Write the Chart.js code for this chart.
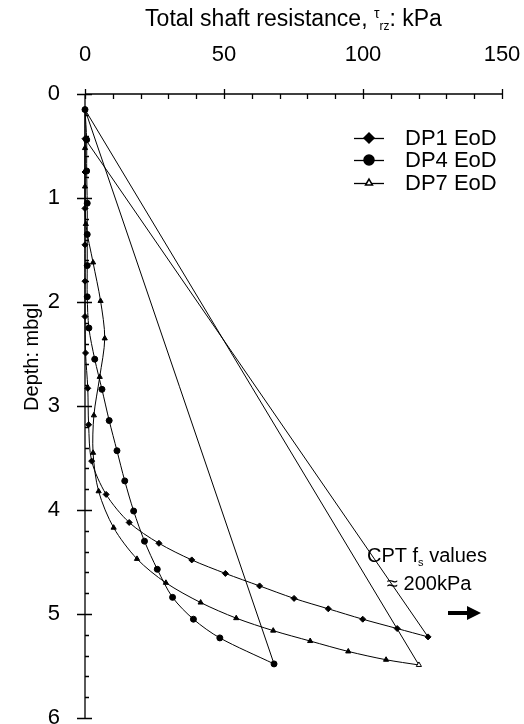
<!DOCTYPE html>
<html>
<head>
<meta charset="utf-8">
<script src="https://cdn.jsdelivr.net/npm/chart.js@4.4.1/dist/chart.umd.min.js"></script>
<style>
  html, body { margin: 0; padding: 0; background: #fff; }
  #wrap { width: 524px; height: 724px; }
</style>
</head>
<body>
<div id="wrap"><canvas id="chart" width="524" height="724"></canvas></div>
<script>
// depth (m below ground) and total shaft resistance (kPa), top to toe
const dp1Depth = [0.43, 0.75, 1.10, 1.45, 1.80, 2.14, 2.49, 2.83, 3.18, 3.53, 3.85, 4.12, 4.32, 4.48, 4.61, 4.73, 4.85, 4.95, 5.05, 5.14, 5.22];
const dp1Shaft = [0, 0, 0, 0, 0, 0, 0.2, 1.0, 1.3, 2.4, 7.6, 15.9, 26.6, 38.4, 50.5, 62.8, 75.2, 87.5, 99.9, 112.3, 123.4];

const dp4Depth = [0.15, 0.44, 0.74, 1.05, 1.35, 1.65, 1.95, 2.25, 2.55, 2.84, 3.14, 3.43, 3.72, 4.01, 4.30, 4.57, 4.84, 5.05, 5.23, 5.48];
const dp4Shaft = [0, 0.6, 0.6, 0.8, 0.8, 0.8, 0.8, 1.4, 3.5, 6.1, 8.7, 11.5, 14.3, 17.5, 21.4, 26.0, 31.5, 39.0, 48.5, 68.0];

const dp7Depth = [0.15, 0.52, 0.89, 1.25, 1.62, 1.99, 2.35, 2.72, 3.09, 3.45, 3.82, 4.17, 4.47, 4.70, 4.89, 5.04, 5.16, 5.26, 5.36, 5.44, 5.49];
const dp7Shaft = [0, 0, 0, 0.3, 2.9, 5.6, 7.1, 5.3, 3.2, 2.9, 4.9, 10.3, 18.7, 29.1, 41.6, 54.4, 67.7, 81.0, 94.7, 108.3, 120.1];

const seriesNames = ["DP1 EoD", "DP4 EoD", "DP7 EoD"];
const xTicksMajor = [0, 50, 100, 150];
const yTicksMajor = [0, 1, 2, 3, 4, 5, 6];

const FONT = '"Liberation Sans", Arial, sans-serif';

function toPoints(shaft, depth) {
    return depth.map((d, i) => ({ x: shaft[i], y: d }));
}

// straight line joining the toe value back up to the first reading
function closingLine(shaft, depth) {
    const last = depth.length - 1;
    return [{ x: shaft[last], y: depth[last] }, { x: shaft[0], y: depth[0] }];
}

function profile(label, shaft, depth, style, radius, hollowToe) {
    const last = depth.length - 1;
    return {
        label: label,
        data: toPoints(shaft, depth),
        showLine: true,
        borderColor: "#000",
        backgroundColor: "#000",
        pointBackgroundColor: c => (hollowToe && c.dataIndex === last ? "#fff" : "#000"),
        borderWidth: 1,
        tension: 0.3,
        pointStyle: style,
        pointRadius: radius,
        pointBorderWidth: 1,
        clip: false
    };
}

function closing(shaft, depth) {
    return {
        label: "",
        data: closingLine(shaft, depth),
        showLine: true,
        borderColor: "#000",
        borderWidth: 1,
        tension: 0,
        pointRadius: 0,
        clip: false
    };
}

// axis lines, ticks, legend, titles and note
const decorations = {
    id: "decorations",
    beforeDatasetsDraw(chart) {
        const ctx = chart.ctx;
        const xs = chart.scales.x, ys = chart.scales.y;
        const top = ys.getPixelForValue(0), bottom = ys.getPixelForValue(6);
        const left = xs.getPixelForValue(0), right = xs.getPixelForValue(150);
        ctx.save();
        ctx.strokeStyle = "#000";
        ctx.lineWidth = 1.3;
        ctx.beginPath();
        ctx.moveTo(left, top); ctx.lineTo(right, top);
        ctx.moveTo(left, top); ctx.lineTo(left, bottom);
        // top axis ticks
        for (let v = 0; v <= 150; v += 10) {
            const px = Math.round(xs.getPixelForValue(v)) + 0.5;
            const major = xTicksMajor.includes(v);
            ctx.moveTo(px, major ? top - 5 : top);
            ctx.lineTo(px, top + 5);
        }
        // depth axis ticks
        for (let i = 0; i <= 30; i++) {
            const v = i / 5;
            const py = Math.round(ys.getPixelForValue(v)) + 0.5;
            const major = i % 5 === 0;
            ctx.moveTo(major ? left - 8 : left, py);
            ctx.lineTo(major ? left + 7 : left + 4, py);
        }
        ctx.stroke();
        ctx.restore();
    },
    afterDraw(chart) {
        const ctx = chart.ctx;
        ctx.save();
        ctx.fillStyle = "#000";
        ctx.strokeStyle = "#000";

        // top title with tau_rz
        const parts = [
            ["Total shaft resistance, ", 23, 0],
            ["\u03c4", 14, -8],
            ["rz", 12, 4],
            [": kPa", 23, 0]
        ];
        let total = 0;
        parts.forEach(p => { ctx.font = p[1] + "px " + FONT; total += ctx.measureText(p[0]).width; });
        let tx = (chart.chartArea.left + chart.chartArea.right) / 2 - total / 2;
        ctx.textBaseline = "alphabetic";
        ctx.textAlign = "left";
        parts.forEach(p => {
            ctx.font = p[1] + "px " + FONT;
            ctx.fillText(p[0], tx, 26 + p[2]);
            tx += ctx.measureText(p[0]).width;
        });

        // depth title
        ctx.save();
        ctx.translate(32, 357);
        ctx.rotate(-Math.PI / 2);
        ctx.font = "20px " + FONT;
        ctx.textAlign = "center";
        ctx.textBaseline = "middle";
        ctx.fillText("Depth: mbgl", 0, 0);
        ctx.restore();

        // legend
        const rows = [138, 160, 183];
        const ds = chart.data.datasets.filter(d => d.label);
        ds.forEach((d, i) => {
            const y = rows[i];
            ctx.lineWidth = 1.3;
            ctx.beginPath();
            ctx.moveTo(354, y + 0.5); ctx.lineTo(384, y + 0.5);
            ctx.stroke();
            const tri = d.pointStyle === "triangle";
            ctx.fillStyle = tri ? "#fff" : "#000";
            ctx.lineWidth = 1.5;
            Chart.helpers.drawPoint(ctx, { pointStyle: d.pointStyle, radius: tri ? 4 : 5, rotation: 0, borderWidth: 1.5 }, 369, y);
            ctx.fillStyle = "#000";
            ctx.font = "22px " + FONT;
            ctx.textAlign = "left";
            ctx.textBaseline = "middle";
            ctx.fillText(d.label, 405, y + 1);
        });

        // CPT note
        ctx.textBaseline = "alphabetic";
        ctx.textAlign = "left";
        ctx.font = "20px " + FONT;
        let nx = 367;
        ctx.fillText("CPT f", nx, 562);
        nx += ctx.measureText("CPT f").width;
        ctx.font = "11px " + FONT;
        ctx.fillText("s", nx, 566);
        nx += ctx.measureText("s").width;
        ctx.font = "20px " + FONT;
        ctx.fillText(" values", nx, 562);
        ctx.fillText("\u2248 200kPa", 387, 590);

        // arrow
        ctx.fillRect(448, 611, 21, 4);
        ctx.beginPath();
        ctx.moveTo(467, 606); ctx.lineTo(481, 613); ctx.lineTo(467, 620);
        ctx.closePath();
        ctx.fill();
        ctx.restore();
    }
};

const ctx = document.getElementById("chart").getContext("2d");
const chart = new Chart(ctx, {
    type: "scatter",
    data: {
        datasets: [
            profile(seriesNames[0], dp1Shaft, dp1Depth, "rectRot", 3, false),
            profile(seriesNames[1], dp4Shaft, dp4Depth, "circle", 3, false),
            profile(seriesNames[2], dp7Shaft, dp7Depth, "triangle", 3, true),
            closing(dp1Shaft, dp1Depth),
            closing(dp4Shaft, dp4Depth),
            closing(dp7Shaft, dp7Depth)
        ]
    },
    options: {
        responsive: false,
        devicePixelRatio: 1,
        animation: false,
        events: [],
        layout: { padding: { top: 0, left: 0, right: 22, bottom: 6 } },
        plugins: {
            legend: { display: false },
            tooltip: { enabled: false }
        },
        scales: {
            x: {
                type: "linear",
                position: "top",
                min: 0,
                max: 150,
                grid: { display: false, drawTicks: false },
                border: { display: false },
                ticks: {
                    stepSize: 10,
                    autoSkip: false,
                    maxRotation: 0,
                    padding: 26,
                    color: "#000",
                    font: { family: FONT, size: 22 },
                    callback: v => (xTicksMajor.includes(v) ? String(v) : "")
                },
                afterFit: s => {
                    s.height = 94;
                    s.paddingLeft = 0;
                    s.paddingRight = 0;
                }
            },
            y: {
                type: "linear",
                reverse: true,
                min: 0,
                max: 6,
                grid: { display: false, drawTicks: false },
                border: { display: false },
                ticks: {
                    stepSize: 1,
                    autoSkip: false,
                    padding: 25,
                    color: "#000",
                    font: { family: FONT, size: 22 },
                    callback: v => (yTicksMajor.includes(v) ? String(v) : "")
                },
                afterFit: s => {
                    s.width = 85;
                    s.paddingTop = 0;
                    s.paddingBottom = 0;
                }
            }
        }
    },
    plugins: [decorations]
});
</script>
</body>
</html>
